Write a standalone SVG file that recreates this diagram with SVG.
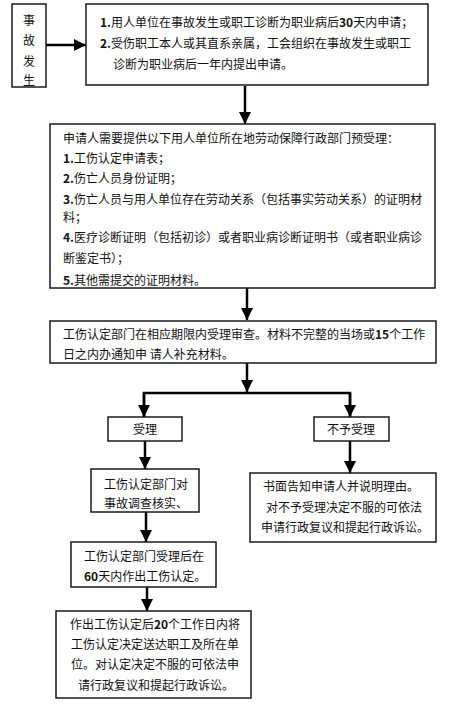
<svg xmlns="http://www.w3.org/2000/svg" width="469" height="710" viewBox="0 0 469 710">
<style>
.box{fill:#fff;stroke:#1a1a1a;stroke-width:1.5}
.t{font-family:"Noto Sans CJK SC","Noto Sans",sans-serif;font-size:12px;fill:#111}
.m{text-anchor:middle}
.b{font-weight:bold}
.c{fill:none;stroke:#000;stroke-width:2.5}
</style>
<defs>
<marker id="ah" markerUnits="userSpaceOnUse" markerWidth="12" markerHeight="12" viewBox="0 0 12 12" refX="12" refY="6" orient="auto">
<path d="M0,0 L12,6 L0,12 Z" fill="#000"/>
</marker>
</defs>
<rect width="469" height="710" fill="#fff"/>
<g id="connectors">
<line class="c" x1="46" y1="45" x2="86" y2="45" marker-end="url(#ah)"/>
<line class="c" x1="245" y1="86" x2="245" y2="124" marker-end="url(#ah)"/>
<line class="c" x1="247" y1="288" x2="247" y2="320" marker-end="url(#ah)"/>
<line class="c" x1="247" y1="363" x2="247" y2="392" marker-end="url(#ah)"/>
<polyline class="c" points="144,417 144,393 350,393 350,417"/>
<line class="c" x1="144" y1="393" x2="144" y2="417" marker-end="url(#ah)"/>
<line class="c" x1="350" y1="393" x2="350" y2="417" marker-end="url(#ah)"/>
<line class="c" x1="145" y1="441" x2="145" y2="469" marker-end="url(#ah)"/>
<line class="c" x1="146" y1="512" x2="146" y2="542" marker-end="url(#ah)"/>
<line class="c" x1="147" y1="587" x2="147" y2="611" marker-end="url(#ah)"/>
<line class="c" x1="350" y1="441" x2="350" y2="473" marker-end="url(#ah)"/>
</g>
<g id="n-start">
<rect class="box" x="12" y="4" width="34" height="83"/>
<text class="t m" x="29" y="25">事</text>
<text class="t m" x="29" y="45">故</text>
<text class="t m" x="29" y="66">发</text>
<text class="t m" x="29" y="85">生</text>
</g>
<g id="n-apply">
<rect class="box" x="86" y="4" width="342" height="81"/>
<text class="t" x="100" y="27"><tspan class="b">1.</tspan>用人单位在事故发生或职工诊断为职业病后<tspan class="b">30</tspan>天内申请；</text>
<text class="t" x="100" y="48"><tspan class="b">2.</tspan>受伤职工本人或其直系亲属，工会组织在事故发生或职工</text>
<text class="t" x="113" y="69">诊断为职业病后一年内提出申请。</text>
</g>
<g id="n-materials">
<rect class="box" x="50" y="124" width="385" height="164"/>
<text class="t" x="63" y="143">申请人需要提供以下用人单位所在地劳动保障行政部门预受理：</text>
<text class="t" x="63" y="163"><tspan class="b">1.</tspan>工伤认定申请表；</text>
<text class="t" x="63" y="183"><tspan class="b">2.</tspan>伤亡人员身份证明；</text>
<text class="t" x="63" y="204"><tspan class="b">3.</tspan>伤亡人员与用人单位存在劳动关系（包括事实劳动关系）的证明材</text>
<text class="t" x="63" y="222">料；</text>
<text class="t" x="63" y="242"><tspan class="b">4.</tspan>医疗诊断证明（包括初诊）或者职业病诊断证明书（或者职业病诊</text>
<text class="t" x="63" y="263">断鉴定书）；</text>
<text class="t" x="63" y="285"><tspan class="b">5.</tspan>其他需提交的证明材料。</text>
</g>
<g id="n-review">
<rect class="box" x="50" y="321" width="386" height="42"/>
<text class="t" x="63" y="339">工伤认定部门在相应期限内受理审查。材料不完整的当场或<tspan class="b">15</tspan>个工作</text>
<text class="t" x="63" y="359">日之内办通知申 请人补充材料。</text>
</g>
<g id="n-accept">
<rect class="box" x="108" y="417" width="74" height="24"/>
<text class="t m" x="145" y="434">受理</text>
</g>
<g id="n-reject">
<rect class="box" x="314" y="417" width="75" height="24"/>
<text class="t m" x="351" y="434">不予受理</text>
</g>
<g id="n-investigate">
<rect class="box" x="91" y="469" width="108" height="43"/>
<text class="t" x="104" y="489">工伤认定部门对</text>
<text class="t" x="104" y="508">事故调查核实、</text>
</g>
<g id="n-decide">
<rect class="box" x="71" y="542" width="145" height="45"/>
<text class="t" x="84" y="561">工伤认定部门受理后在</text>
<text class="t" x="84" y="581"><tspan class="b">60</tspan>天内作出工伤认定。</text>
</g>
<g id="n-deliver">
<rect class="box" x="56" y="611" width="195" height="87"/>
<text class="t m" x="155" y="629">作出工伤认定后<tspan class="b">20</tspan>个工作日内将</text>
<text class="t m" x="155" y="649">工伤认定决定送达职工及所在单</text>
<text class="t m" x="155" y="669">位。对认定决定不服的可依法申</text>
<text class="t m" x="156" y="690">请行政复议和提起行政诉讼。</text>
</g>
<g id="n-notify">
<rect class="box" x="250" y="473" width="186" height="69"/>
<text class="t m" x="341" y="491">书面告知申请人并说明理由。</text>
<text class="t m" x="344" y="512">对不予受理决定不服的可依法</text>
<text class="t m" x="345" y="532">申请行政复议和提起行政诉讼。</text>
</g>
</svg>
